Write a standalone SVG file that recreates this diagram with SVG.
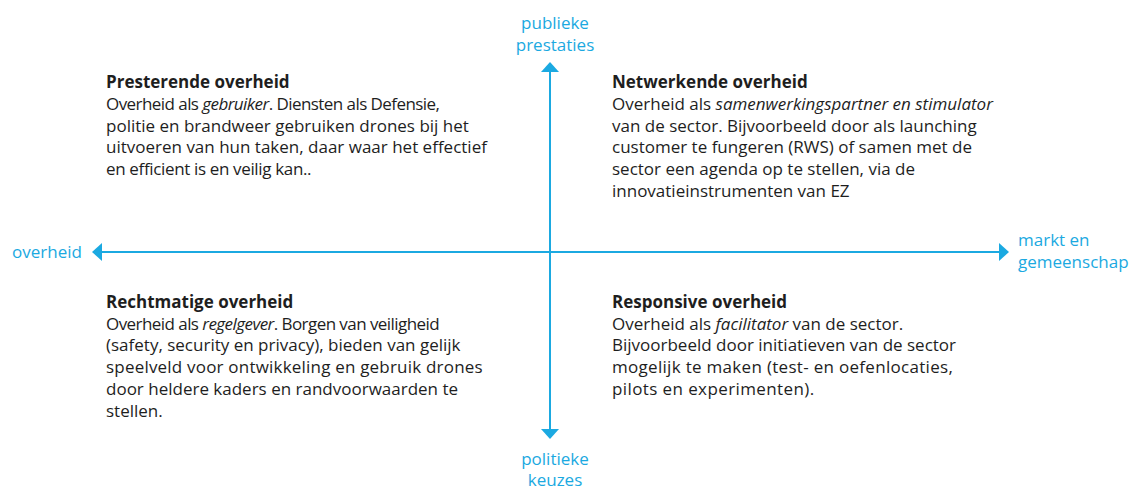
<svg xmlns="http://www.w3.org/2000/svg" width="1136" height="490" viewBox="0 0 1136 490">
  <defs>
    <style>
      text { font-family: "Open Sans", "Noto Sans", sans-serif; font-size: 17px; }
      .body { fill: #1e1e1e; }
      .head { font-weight: 700; }
      .it { font-style: italic; }
      .tight { letter-spacing: -0.56px; }
      .axislabel { fill: #1ba9e1; }
      .axis { stroke: #1ba9e1; stroke-width: 2; fill: none; }
    </style>
    <marker id="arrow" viewBox="0 0 10 18" refX="0" refY="9" markerWidth="10" markerHeight="18" markerUnits="userSpaceOnUse" orient="auto-start-reverse">
      <path d="M0,0 L10,9 L0,18 Z" fill="#1ba9e1"/>
    </marker>
  </defs>
  <rect width="1136" height="490" fill="#ffffff"/>

  <g id="connectors">
    <line class="axis" x1="550" y1="72" x2="550" y2="429" marker-start="url(#arrow)" marker-end="url(#arrow)"/>
    <line class="axis" x1="102" y1="252" x2="999" y2="252" marker-start="url(#arrow)" marker-end="url(#arrow)"/>
  </g>

  <g id="label-publieke-prestaties">
    <text class="axislabel" x="555" y="29" text-anchor="middle">publieke</text>
    <text class="axislabel" x="555" y="51" text-anchor="middle">prestaties</text>
  </g>
  <g id="label-politieke-keuzes">
    <text class="axislabel" x="555" y="465" text-anchor="middle">politieke</text>
    <text class="axislabel" x="555" y="486" text-anchor="middle">keuzes</text>
  </g>
  <g id="label-overheid">
    <text class="axislabel" x="12" y="258">overheid</text>
  </g>
  <g id="label-markt">
    <text class="axislabel" x="1018" y="246">markt en</text>
    <text class="axislabel" x="1018" y="268">gemeenschap</text>
  </g>

  <g id="presterende-overheid">
    <text class="body head" x="106" y="88">Presterende overheid</text>
    <text class="body tight" x="106" y="110">Overheid als <tspan class="it">gebruiker</tspan>. Diensten als Defensie,</text>
    <text class="body" x="106" y="131.7">politie en brandweer gebruiken drones bij het</text>
    <text class="body" x="106" y="153.4">uitvoeren van hun taken, daar waar het effectief</text>
    <text class="body" x="106" y="175.1" style="letter-spacing:-0.35px">en efficient is en veilig kan..</text>
  </g>

  <g id="netwerkende-overheid">
    <text class="body head" x="612" y="88">Netwerkende overheid</text>
    <text class="body" x="612" y="110">Overheid als <tspan class="it">samenwerkingspartner en stimulator</tspan></text>
    <text class="body" x="612" y="131.7">van de sector. Bijvoorbeeld door als launching</text>
    <text class="body" x="612" y="153.4">customer te fungeren (RWS) of samen met de</text>
    <text class="body" x="612" y="175.1">sector een agenda op te stellen, via de</text>
    <text class="body" x="612" y="196.8">innovatieinstrumenten van EZ</text>
  </g>

  <g id="rechtmatige-overheid">
    <text class="body head" x="106" y="308">Rechtmatige overheid</text>
    <text class="body tight" x="106" y="329.7">Overheid als <tspan class="it">regelgever</tspan>. Borgen van veiligheid</text>
    <text class="body" x="106" y="351.4">(safety, security en privacy), bieden van gelijk</text>
    <text class="body" x="106" y="373.1" style="letter-spacing:0.2px">speelveld voor ontwikkeling en gebruik drones</text>
    <text class="body" x="106" y="394.8">door heldere kaders en randvoorwaarden te</text>
    <text class="body" x="106" y="416.5">stellen.</text>
  </g>

  <g id="responsive-overheid">
    <text class="body head" x="612" y="308">Responsive overheid</text>
    <text class="body" x="612" y="329.7">Overheid als <tspan class="it">facilitator</tspan> van de sector.</text>
    <text class="body" x="612" y="351.4">Bijvoorbeeld door initiatieven van de sector</text>
    <text class="body" x="612" y="373.1" style="letter-spacing:0.3px">mogelijk te maken (test- en oefenlocaties,</text>
    <text class="body" x="612" y="394.8" style="letter-spacing:0.4px">pilots en experimenten).</text>
  </g>
</svg>
